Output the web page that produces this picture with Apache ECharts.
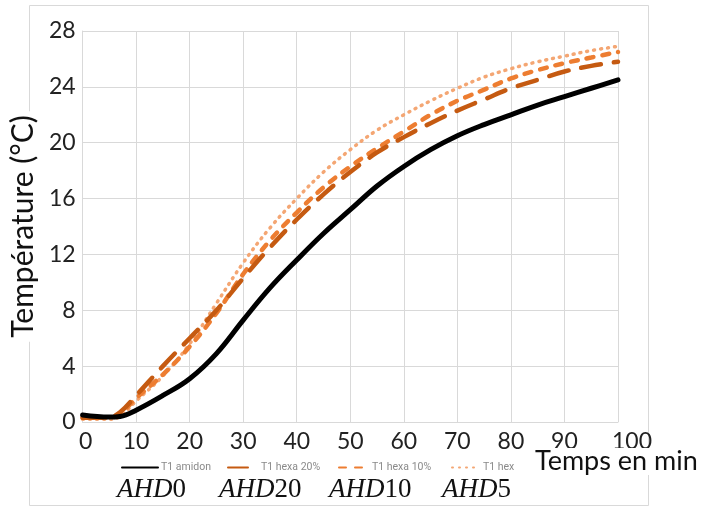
<!DOCTYPE html>
<html>
<head>
    <meta charset="utf-8">
    <title>Température</title>
    <script src="https://cdn.jsdelivr.net/npm/echarts@6/dist/echarts.min.js"></script>
    <style>body{margin:0;background:#fff}</style>
</head>
<body>
    <div id="main" style="width:718px;height:506px;"></div>
    <script type="text/javascript">
        // temps (min)
        var temps = [0, 5, 7, 10, 15, 20, 25, 30, 35, 40, 45, 50, 55, 60, 65, 70, 75, 80, 85, 90, 95, 100]
        var amidon = [0.5, 0.35, 0.4, 0.85, 1.9, 3.1, 4.9, 7.3, 9.6, 11.6, 13.5, 15.2, 16.9, 18.3, 19.5, 20.5, 21.3, 22.0, 22.7, 23.3, 23.9, 24.5]
        var hexa20 = [0.3, 0.35, 0.7, 1.9, 4.0, 6.0, 8.0, 10.3, 12.5, 14.5, 16.3, 17.9, 19.3, 20.4, 21.4, 22.3, 23.1, 23.9, 24.5, 25.1, 25.5, 25.8]
        var hexa10 = [0.3, 0.3, 0.6, 1.7, 3.4, 5.4, 7.8, 10.6, 13.0, 15.0, 16.8, 18.3, 19.6, 20.8, 22.0, 23.0, 23.8, 24.6, 25.2, 25.7, 26.1, 26.5]
        var hexa5 = [0.2, 0.2, 0.4, 1.5, 3.3, 5.6, 8.5, 11.4, 13.9, 16.0, 17.9, 19.5, 20.9, 22.0, 23.0, 23.9, 24.7, 25.3, 25.8, 26.2, 26.6, 26.9]
        var noms = ['T1 amidon', 'T1 hexa 20%', 'T1 hexa 10%', 'T1 hex']
        var ahd = ['0', '20', '10', '5']

        function pairs(ys) {
            var out = []
            for (var i = 0; i < temps.length; i++) out.push([temps[i], ys[i]])
            return out
        }

        var myChart = echarts.init(document.getElementById('main'))
        var gris = '#d9d9d9'
        var legendLeft = [116, 222, 333, 446]
        var legendW = [36, 30, 30, 28]
        var ahdLeft = [117, 219, 329, 442]

        var legends = []
        for (var i = 0; i < noms.length; i++) {
            legends.push({
                data: [noms[i]], left: legendLeft[i], top: 457,
                itemWidth: legendW[i], itemHeight: 10, itemGap: 0,
                itemStyle: {opacity: 0},
                textStyle: {color: '#8a8a8a', fontSize: 10.5, fontFamily: 'Roboto', padding: [0, 0, 0, -2]}
            })
        }

        var graphics = [{
            type: 'rect', z: -10, silent: true,
            shape: {x: 29.5, y: 5.5, width: 619, height: 500},
            style: {fill: '#fff', stroke: gris, lineWidth: 1}
        }, {
            type: 'text', left: 533, top: 448, z: 10,
            style: {text: 'Temps en min', font: '27px Lato', fill: '#111', backgroundColor: '#fff', padding: [0, 2]}
        }]
        for (var j = 0; j < ahd.length; j++) {
            graphics.push({
                type: 'text', left: ahdLeft[j], top: 476, z: 10,
                style: {
                    text: '{i|AHD}{n|' + ahd[j] + '}',
                    backgroundColor: '#fff',
                    rich: {
                        i: {font: 'italic 27px "Liberation Serif"', fill: '#111'},
                        n: {font: '27px "Liberation Serif"', fill: '#111'}
                    }
                }
            })
        }

        var option = {
            animation: false,
            grid: {left: 79, right: 100, top: 31, bottom: 84},
            legend: legends,
            graphic: graphics,
            xAxis: {
                type: 'value', min: 0, max: 100, interval: 10,
                axisLine: {lineStyle: {color: gris}},
                axisTick: {show: false},
                splitLine: {lineStyle: {color: gris}},
                axisLabel: {
                    color: '#222', fontSize: 23, fontFamily: 'Lato', margin: 8,
                    formatter: function (v) {
                        if (v === 0) return '{a|0}'
                        if (v === 100) return '{b|100}'
                        return v
                    },
                    rich: {
                        a: {fontSize: 23, fontFamily: 'Lato', color: '#222', padding: [0, 0, 0, 6]},
                        b: {fontSize: 23, fontFamily: 'Lato', color: '#222', padding: [0, 0, 0, 28]}
                    }
                }
            },
            yAxis: {
                type: 'value', min: 0, max: 28, interval: 4,
                name: 'Température (°C)', nameLocation: 'middle', nameGap: 35,
                nameTextStyle: {color: '#111', fontSize: 30, fontFamily: 'Lato', backgroundColor: '#fff', padding: [0, 4]},
                axisLine: {show: true, lineStyle: {color: gris}},
                axisTick: {show: false},
                splitLine: {lineStyle: {color: gris}},
                axisLabel: {color: '#222', fontSize: 23, fontFamily: 'Lato', margin: 7}
            },
            series: [
                {name: noms[0], type: 'line', smooth: 0.4, symbol: 'none', data: pairs(amidon), z: 5,
                    lineStyle: {color: '#000', width: 5, cap: 'round'}, itemStyle: {color: '#000'}},
                {name: noms[1], type: 'line', smooth: 0.4, symbol: 'none', data: pairs(hexa20), z: 4,
                    lineStyle: {color: '#C55A11', width: 4.5, type: [20, 13], cap: 'round'}, itemStyle: {color: '#C55A11'}},
                {name: noms[2], type: 'line', smooth: 0.4, symbol: 'none', data: pairs(hexa10), z: 3,
                    lineStyle: {color: '#ED7D31', width: 4.5, type: [7, 9], cap: 'round'}, itemStyle: {color: '#ED7D31'}},
                {name: noms[3], type: 'line', smooth: 0.4, symbol: 'none', data: pairs(hexa5), z: 2,
                    lineStyle: {color: '#F4A673', width: 3.5, type: [1, 6], cap: 'round'}, itemStyle: {color: '#F4A673'}}
            ]
        };
        myChart.setOption(option);
    </script>
</body>
</html>
